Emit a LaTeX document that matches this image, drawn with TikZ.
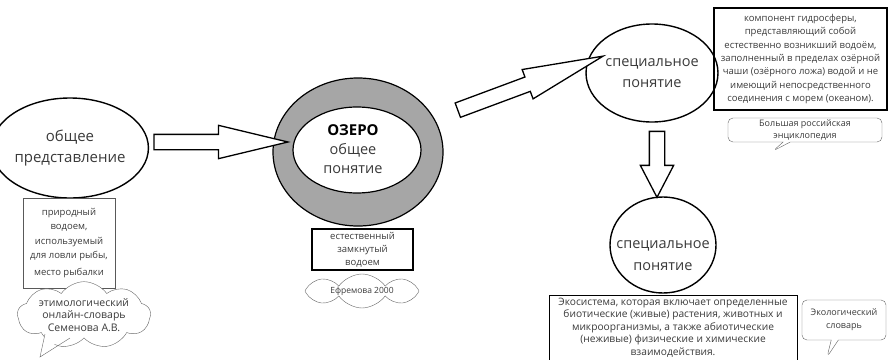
\documentclass[tikz,border=0pt]{standalone}
\usepackage{fontspec}
\setmainfont{Open Sans}
\usetikzlibrary{shapes,arrows}
\definecolor{ringgray}{HTML}{A6A6A6}
\definecolor{txtgray}{HTML}{3A3A3A}
\tikzstyle{concept} = [ellipse, draw=black, line width=1.4pt, inner sep=0pt, align=center, text=txtgray, font=\fontsize{14.5}{21}\selectfont]
\tikzstyle{defbox} = [rectangle, draw=black, align=center, inner sep=0pt, text=txtgray]
\tikzstyle{source} = [rectangle callout, rounded corners=5pt, draw=gray!80!black, align=center, inner sep=0pt, text=txtgray]
\tikzstyle{puff} = [cloud, cloud puffs=9, cloud puff arc=110, cloud ignores aspect, draw=gray!80!black, fill=white, align=center, inner sep=0pt, text=txtgray]
\tikzstyle{bigarrow} = [single arrow, draw=black, line width=1.3pt, fill=white, inner xsep=0pt, inner ysep=7pt, minimum width=0pt]

\begin{document}
\begin{tikzpicture}[x=1pt,y=-1pt]
\useasboundingbox (0,0) rectangle (889,359);

% left: general idea
\node [concept, minimum width=122, minimum height=100, font=\fontsize{15}{21}\selectfont] (general) at (70,148) {общее\\представление};
\node [defbox, draw=gray!70!black, minimum width=92, minimum height=90, font=\fontsize{9.5}{14.5}\selectfont] (folk) at (69,243) {природный\\водоем,\\используемый\\для ловли рыбы,\\[2pt]место рыбалки};
\fill [white] (44,333) -- (40,357) -- (70,338) -- cycle;
\node [puff, minimum width=133, minimum height=50, font=\fontsize{10.5}{12.5}\selectfont] (etym) at (84,315) {этимологический\\онлайн-словарь\\Семенова А.В.};
\fill [white] (45,333) -- (42,352) -- (68,336) -- cycle;
\draw [gray!80!black] (45,334) -- (40,357) -- (70,338);

% centre: the lake
\node [ellipse, draw=black, line width=1.2pt, fill=ringgray, minimum width=170, minimum height=148] (ring) at (358,152) {};
\node [ellipse, draw=black, line width=1.2pt, fill=white, minimum width=128, minimum height=86] (inner) at (357,150) {};
\node [align=center, text=txtgray, font=\fontsize{14.5}{19}\selectfont] (lake) at (353,149) {\textcolor{black}{\fontsize{15}{19}\selectfont\bfseries ОЗЕРО}\\общее\\понятие};
\node [defbox, line width=1.6pt, minimum width=101, minimum height=41, font=\fontsize{9.5}{13}\selectfont] (efrdef) at (362.5,249.5) {естественный\\замкнутый\\водоем};
\node [puff, cloud puffs=8, minimum width=114, minimum height=34, font=\fontsize{8.5}{10}\selectfont] (efr) at (362,291) {Ефремова 2000};

% right: special notions
\node [concept, minimum width=120, minimum height=98] (special) at (652,73) {специальное\\понятие};
\node [defbox, line width=1.3pt, minimum width=173, minimum height=102, font=\fontsize{9.5}{13.4}\selectfont] (bre) at (800.5,59) {компонент гидросферы,\\представляющий собой\\естественно возникший водоём,\\заполненный в пределах озёрной\\чаши (озёрного ложа) водой и не\\имеющий непосредственного\\соединения с морем (океаном).};
\node [source, minimum width=154, minimum height=24, callout absolute pointer={(773,151)}, font=\fontsize{9}{11.5}\selectfont] (brecall) at (805,130) {Большая российская\\энциклопедия};

\node [ellipse, draw=black, line width=1.4pt, minimum width=106, minimum height=96] (ecol) at (663,245) {};
\node [align=center, text=txtgray, font=\fontsize{14.5}{22}\selectfont] (ecoltext) at (663,256) {специальное\\понятие};
\node [align=center, anchor=north, inner sep=0pt, text=txtgray, font=\fontsize{10.2}{12.6}\selectfont] (ecodef) at (673,297.5) {Экосистема, которая включает определенные\\биотические (живые) растения, животных и\\микроорганизмы, а также абиотические\\(неживые) физические и химические\\взаимодействия.};
\draw [line width=1pt] (549,295) rectangle (797,370);
\node [source, minimum width=84, minimum height=40, callout absolute pointer={(827,357)}, font=\fontsize{9}{13}\selectfont] (ecocall) at (844,320) {Экологический\\словарь};

% block arrows
\node [bigarrow, minimum height=134, single arrow head extend=9pt, single arrow tip angle=27] (a1) at (205,142) {};
\node [bigarrow, minimum height=155, single arrow head extend=8pt, single arrow tip angle=22, rotate=20.4] (a2) at (512,90) {};
\node [bigarrow, minimum height=66, single arrow head extend=9pt, single arrow tip angle=55, rotate=-90] (a3) at (657,157) {};

\end{tikzpicture}
\end{document}
